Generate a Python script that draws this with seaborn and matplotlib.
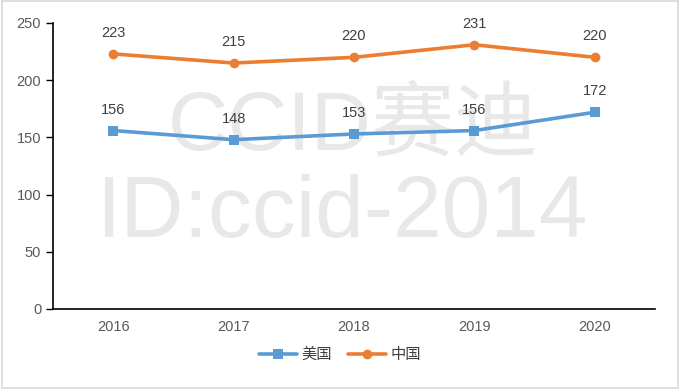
import matplotlib
matplotlib.use("Agg")
import matplotlib.pyplot as plt
import seaborn as sns
import pandas as pd
from matplotlib.patches import Rectangle

years = ["2016", "2017", "2018", "2019", "2020"]
usa = [156, 148, 153, 156, 172]
china = [223, 215, 220, 231, 220]
series_names = ["美国", "中国"]
yticks = [0, 50, 100, 150, 200, 250]

sns.set_theme(style="white")
plt.rcParams['font.family'] = ['Liberation Sans', 'Noto Sans CJK SC', 'DejaVu Sans']

df = pd.DataFrame({
    "year": years * 2,
    "value": usa + china,
    "series": [series_names[0]] * 5 + [series_names[1]] * 5,
})

fig = plt.figure(figsize=(6.8, 3.89), dpi=100)
fig.patches.append(Rectangle((0.003, 0.003), 0.994, 0.994, transform=fig.transFigure,
                             fill=False, edgecolor="#d9d9d9", linewidth=1.2))

# watermark (drawn beneath the axes)
fig.text(353/680, 1 - 150/389, "CCID赛迪", ha="center", va="baseline", fontsize=60,
         color="#e8e8e8", family=['Liberation Sans', 'Noto Sans CJK SC'], zorder=0)
fig.text(343/680, 1 - 237/389, "ID:ccid-2014", ha="center", va="baseline", fontsize=63,
         color="#e8e8e8", family=['Liberation Sans'], zorder=0)

ax = fig.add_axes([53/680, 1 - 309/389, 602/680, 286/389])
ax.set_zorder(2)
ax.patch.set_alpha(0)

palette = {series_names[0]: "#5B9BD5", series_names[1]: "#ED7D31"}
sns.lineplot(data=df, x="year", y="value", hue="series", style="series",
             markers={series_names[0]: "s", series_names[1]: "o"}, dashes=False,
             palette=palette, linewidth=2.6, markersize=7, markeredgewidth=0,
             ax=ax, legend=True)

for i, v in enumerate(usa):
    ax.annotate(str(v), (i, v), xytext=(0, 10), textcoords="offset points",
                ha="center", va="bottom", fontsize=10.5, color="#404040")
for i, v in enumerate(china):
    ax.annotate(str(v), (i, v), xytext=(0, 10), textcoords="offset points",
                ha="center", va="bottom", fontsize=10.5, color="#404040")

ax.set_xlim(-0.5, 4.5)
ax.set_ylim(0, 250)
ax.set_yticks(yticks)
ax.set_xticks(range(5))
ax.set_xticklabels(years)
ax.set_xticks([i - 0.5 for i in range(6)], minor=True)
ax.tick_params(axis="x", which="major", length=0, pad=8, labelsize=10.5, labelcolor="#595959")
ax.tick_params(axis="x", which="minor", length=5, width=1, color="black", direction="out")
ax.tick_params(axis="y", which="major", length=5, width=1, color="black", direction="out",
               labelsize=10.5, labelcolor="#595959", left=True)
ax.set_xlabel("")
ax.set_ylabel("")
for s in ["top", "right"]:
    ax.spines[s].set_visible(False)
for s in ["left", "bottom"]:
    ax.spines[s].set_color("black")
    ax.spines[s].set_linewidth(1.2)

ax.legend(loc="center", bbox_to_anchor=(340/680, 1 - 355/389), bbox_transform=fig.transFigure,
          ncol=2, frameon=False, fontsize=11, handlelength=2.5, columnspacing=1.0,
          handletextpad=0.3, labelcolor="#404040")

fig.savefig("out.png", dpi=100)
